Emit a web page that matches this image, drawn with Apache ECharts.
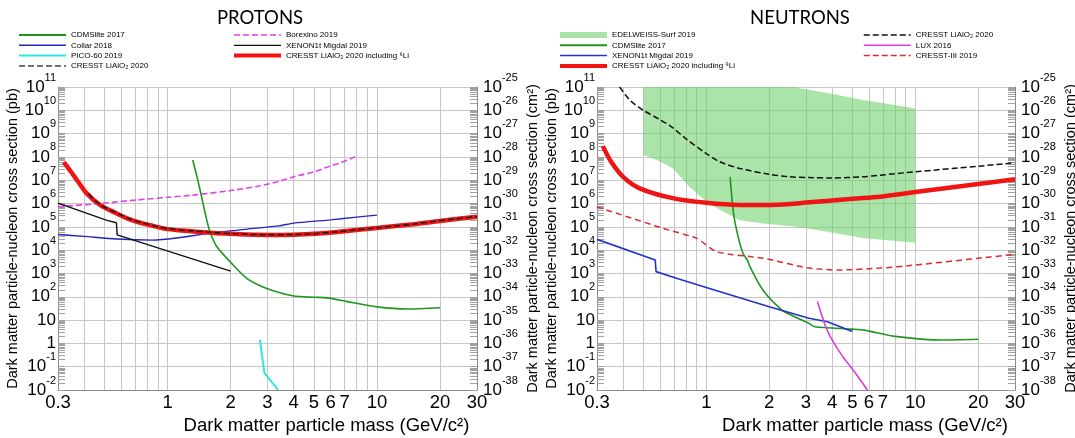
<!DOCTYPE html>
<html>
<head>
<meta charset="utf-8">
<title>Dark matter limits</title>
<script src="https://cdn.jsdelivr.net/npm/echarts@6/dist/echarts.min.js"></script>
<style>
  html, body { margin: 0; padding: 0; background: #fff; }
  #main { width: 1075px; height: 438px; }
</style>
</head>
<body>
<div id="main"></div>
<script>
// axis ticks
const massLabels = [0.3, 1, 2, 3, 4, 5, 6, 7, 10, 20, 30];
const massGrid = [0.3, 0.4, 0.5, 0.6, 0.7, 0.8, 0.9, 1, 2, 3, 4, 5, 6, 7, 8, 9, 10, 20, 30];
const pbTicks = [1e-2, 1e-1, 1, 1e1, 1e2, 1e3, 1e4, 1e5, 1e6, 1e7, 1e8, 1e9, 1e10, 1e11];
// 1 pb = 1e-36 cm2, right hand labels run from 10^-38 to 10^-25
const pbToCmExponent = -36;

// protons  [mass GeV/c2, cross section pb]
const pCdmslite = [[1.32, 7.4e7], [1.38, 1.5e7], [1.43, 3.8e6], [1.54, 1.9e5], [1.6, 5.6e4], [1.72, 1.4e4], [2.1, 1.9e3], [2.4, 6e2], [2.8, 2.8e2], [3.2, 1.8e2], [4, 1.07e2], [5, 95], [5.8, 90], [7.2, 62], [10, 37], [14, 30], [20, 34]];
const pCollar = [[0.3, 4.7e4], [0.4, 3.9e4], [0.57, 3e4], [0.85, 2.7e4], [1.1, 3.3e4], [1.6, 5.4e4], [2.4, 8e4], [3.4, 1.1e5], [4, 1.45e5], [6, 2e5], [8, 2.6e5], [10, 3.2e5]];
const pPico = [[2.76, 1.4], [2.9, 0.054], [3.37, 0.01]];
const pCresst = [[0.42, 2.6e6], [0.476, 9e5], [0.57, 4e5], [0.68, 2e5], [0.85, 1.15e5], [1, 8.5e4], [1.3, 6.8e4], [1.6, 5.8e4], [2.1, 5e4], [3, 4.6e4], [4, 4.7e4], [5, 5.1e4], [7, 6.6e4], [10, 9.2e4], [15, 1.33e5], [20, 1.85e5], [30, 2.8e5]];
const pBorexino = [[0.3, 7.2e5], [0.5, 1.05e6], [0.7, 1.4e6], [1, 1.85e6], [1.32, 2.3e6], [2, 3.6e6], [2.7, 5.5e6], [3.4, 9e6], [4, 1.4e7], [5, 2.3e7], [5.8, 3.7e7], [7, 6.5e7], [8, 1.1e8]];
const pXenon = [[0.3, 1.05e6], [0.514, 1.9e5], [0.57, 1.5e5], [0.575, 4.5e4], [2.0, 1.26e3]];
const pCresstLi = [[0.32, 6e7], [0.35, 2e7], [0.37, 1e7], [0.41, 2.8e6], [0.476, 8.7e5], [0.57, 3.8e5], [0.68, 1.9e5], [0.85, 1.1e5], [1, 8e4], [1.3, 6.5e4], [1.6, 5.6e4], [2.1, 4.9e4], [3, 4.5e4], [4, 4.6e4], [5, 5e4], [7, 6.5e4], [10, 9e4], [15, 1.3e5], [20, 1.8e5], [30, 2.7e5]];

// neutrons
const nBandUpper = [[0.5, 1e11], [2.6, 1e11], [3.8, 5.5e10], [5.6, 2.8e10], [8, 1.7e10], [10, 1.2e10]];
const nBandLower = [[0.5, 1.2e8], [0.58, 7.4e7], [0.69, 3.3e7], [0.83, 5.2e6], [1, 1.2e6], [1.2, 4.5e5], [1.45, 1.9e5], [1.87, 1.4e5], [2.7, 1e5], [3.8, 6.2e4], [5.6, 3.3e4], [10, 2.1e4]];
const nCdmslite = [[1.3, 1.4e7], [1.35, 3.8e5], [1.42, 3.8e4], [1.5, 7.2e3], [1.57, 3.8e3], [1.62, 1.9e3], [1.87, 1.9e2], [2.3, 27], [2.65, 14], [3.1, 7.2], [3.3, 5.2], [5, 4.1], [5.7, 3.7], [8, 2.0], [13.4, 1.4], [20, 1.5]];
const nXenon = [[0.3, 2.9e4], [0.57, 3.8e3], [0.575, 1.2e3], [0.72, 6.2e2], [1, 2.5e2], [2, 37], [3.1, 12], [3.8, 8.5], [5, 3.2]];
const nCresstLi = [[0.32, 2.9e8], [0.35, 6.3e7], [0.4, 1.4e7], [0.48, 4.5e6], [0.69, 1.7e6], [1, 1.07e6], [1.45, 8.7e5], [2, 8.7e5], [2.5, 9.5e5], [3, 1.1e6], [5, 1.6e6], [6.8, 1.95e6], [10, 3.1e6], [20, 6.9e6], [30, 1.1e7]];
const nCresst = [[0.385, 1e11], [0.43, 2.8e10], [0.5, 1e10], [0.6, 4e9], [0.69, 1.8e9], [0.8, 6e8], [1, 1.4e8], [1.16, 6.2e7], [1.45, 3.2e7], [2, 1.8e7], [2.5, 1.4e7], [3.1, 1.3e7], [4, 1.25e7], [5.6, 1.4e7], [6.8, 1.65e7], [10, 2.3e7], [20, 4e7], [30, 5.6e7]];
const nLux = [[3.4, 62], [3.7, 6.2], [4.0, 1.4], [4.5, 0.27], [5.2, 0.05], [5.9, 0.01]];
const nCresst3 = [[0.3, 7.2e5], [0.62, 8.7e4], [0.9, 3.2e4], [1.12, 8.5e3], [1.87, 4.5e3], [3.1, 1.7e3], [4.3, 1.4e3], [6.8, 1.7e3], [10, 2.3e3], [20, 4.5e3], [30, 6.6e3]];

const font = 'Liberation Sans, Arial, sans-serif';
const bandColor = 'rgba(110, 208, 105, 0.58)';

// 1..9 x each decade, for the little tick ladder along the y axes
function minorValues(ticks) {
  const out = [];
  for (let i = 0; i < ticks.length - 1; i++) {
    for (let m = 1; m < 10; m++) out.push(m * ticks[i]);
  }
  out.push(ticks[ticks.length - 1]);
  return out;
}

function expo(v) {
  return Math.round(Math.log10(v));
}
function pbLabel(v) {
  const e = expo(v);
  if (e === 0) return '{b|1}';
  if (e === 1) return '{b|10}';
  return '{b|10}{sup|' + e + '}';
}
function cmLabel(v) {
  return '{b|10}{sup|' + (expo(v) + pbToCmExponent) + '}';
}
const labelRich = {
  b: { fontSize: 17, lineHeight: 30, fontFamily: font, color: '#000' },
  sup: { fontSize: 11, lineHeight: 11, verticalAlign: 'top', fontFamily: font, color: '#000' }
};

function xAxis(grid) {
  return {
    type: 'log', gridIndex: grid, min: 0.3, max: 30,
    name: 'Dark matter particle mass (GeV/c²)',
    nameLocation: 'middle', nameGap: 20,
    nameTextStyle: { fontSize: 18.5, color: '#000', fontFamily: font, padding: [0, 0, 0, 118] },
    axisLine: { lineStyle: { color: '#8a8a8a' } },
    axisTick: { show: false, customValues: massGrid },
    axisLabel: { customValues: massLabels, margin: 3, fontSize: 18.5, color: '#000', fontFamily: font },
    splitLine: { show: true, lineStyle: { color: '#c6c6c6', width: 1 } }
  };
}

function yAxis(grid, side) {
  const left = side === 'left';
  return {
    type: 'log', gridIndex: grid, position: side,
    min: pbTicks[0], max: pbTicks[pbTicks.length - 1],
    name: 'Dark matter particle-nucleon cross section (' + (left ? 'pb' : 'cm²') + ')',
    nameLocation: 'middle', nameRotate: 90,
    nameGap: left ? 35 : 48,
    nameTextStyle: { fontSize: 14.5, color: '#000', fontFamily: font },
    axisLine: { show: true, lineStyle: { color: '#8a8a8a' } },
    axisTick: { show: false, customValues: pbTicks },
    axisLabel: { customValues: pbTicks, formatter: left ? pbLabel : cmLabel, margin: left ? 2 : 6, rich: labelRich },
    splitLine: { show: left, lineStyle: { color: '#c6c6c6', width: 1 } }
  };
}

// tick-only axis; labels kept "on" but empty, otherwise the ticks are not drawn
function yMinor(grid, side) {
  return {
    type: 'log', gridIndex: grid, position: side,
    min: pbTicks[0], max: pbTicks[pbTicks.length - 1],
    axisLine: { show: true, lineStyle: { color: 'rgba(0,0,0,0)' } },
    axisLabel: { show: true, customValues: pbTicks, formatter: function () { return ''; } },
    splitLine: { show: false },
    axisTick: { show: true, inside: true, length: 7, customValues: minorValues(pbTicks), lineStyle: { color: '#a2a2a2', width: 1 } }
  };
}

function line(name, data, grid, color, width, type, smooth) {
  return {
    name: name, type: 'line', xAxisIndex: grid, yAxisIndex: grid * 4,
    data: data, symbol: 'none', smooth: smooth || false,
    lineStyle: { color: color, width: width, type: type || 'solid' },
    itemStyle: { color: color },
    emphasis: { disabled: true }
  };
}

const series = [
  line('p:CDMSlite 2017', pCdmslite, 0, '#1f961f', 1.6, 'solid', 0.25),
  line('p:Collar 2018', pCollar, 0, '#2424bf', 1.4, 'solid', 0.2),
  line('p:PICO-60 2019', pPico, 0, '#2fe6e6', 2),
  line('p:Borexino 2019', pBorexino, 0, '#e042e6', 1.6, [6, 3], 0.25),
  line('p:XENON1t Migdal 2019', pXenon, 0, '#111111', 1.4),
  line('p:CRESST LiAlO₂ 2020 including ⁶Li', pCresstLi, 0, '#f01414', 4.5, 'solid', 0.3),
  line('p:CRESST LiAlO₂ 2020', pCresst, 0, '#1a1a1a', 1.5, [6, 3], 0.3),
  {
    name: 'n:EDELWEISS-Surf 2019', type: 'custom', xAxisIndex: 1, yAxisIndex: 4,
    data: [[1, 1e5]], z: 1, silent: true,
    itemStyle: { color: bandColor },
    renderItem: function (params, api) {
      const pts = nBandUpper.concat(nBandLower.slice().reverse()).map(function (p) { return api.coord(p); });
      return { type: 'polygon', shape: { points: pts }, style: { fill: bandColor } };
    }
  },
  line('n:CDMSlite 2017', nCdmslite, 1, '#1f961f', 1.6, 'solid', 0.25),
  line('n:XENON1t Migdal 2019', nXenon, 1, '#2233cc', 1.6),
  line('n:CRESST-III 2019', nCresst3, 1, '#e02a2a', 1.5, [6, 4], 0.2),
  line('n:LUX 2016', nLux, 1, '#d93ed9', 1.6, 'solid', 0.2),
  line('n:CRESST LiAlO₂ 2020', nCresst, 1, '#111111', 1.5, [6, 3], 0.3),
  line('n:CRESST LiAlO₂ 2020 including ⁶Li', nCresstLi, 1, '#f01414', 4.5, 'solid', 0.3)
];

function item(name, color, width, type) {
  return { name: name, lineStyle: { color: color, width: width, type: type || 'solid' } };
}
function legendBox(left, data) {
  return {
    left: left, top: 30.5, orient: 'vertical', padding: 0,
    itemGap: 1.3, itemWidth: 47, itemHeight: 6, selectedMode: false,
    itemStyle: { opacity: 0 },
    textStyle: { fontSize: 8, lineHeight: 9, color: '#000', fontFamily: font },
    formatter: function (n) { return n.slice(2); },
    data: data
  };
}

const option = {
  animation: false,
  backgroundColor: '#fff',
  grid: [
    { left: 58, right: 598, top: 87, bottom: 48, outerBoundsMode: 'none' },
    { left: 597, right: 60, top: 87, bottom: 48, outerBoundsMode: 'none' }
  ],
  graphic: [
    { type: 'text', x: 260, y: 18, style: { text: 'PROTONS', align: 'center', verticalAlign: 'middle', font: '18.5px Lato, "Open Sans", sans-serif', fill: '#000' } },
    { type: 'text', x: 800, y: 18, style: { text: 'NEUTRONS', align: 'center', verticalAlign: 'middle', font: '18.5px Lato, "Open Sans", sans-serif', fill: '#000' } }
  ],
  legend: [
    legendBox(18, [
      item('p:CDMSlite 2017', '#1f961f', 2),
      item('p:Collar 2018', '#2424bf', 1.5),
      item('p:PICO-60 2019', '#2fe6e6', 2),
      item('p:CRESST LiAlO₂ 2020', '#444444', 1.5, [6, 3])
    ]),
    legendBox(232, [
      item('p:Borexino 2019', '#e042e6', 1.5, [6, 3]),
      item('p:XENON1t Migdal 2019', '#111111', 1.2),
      item('p:CRESST LiAlO₂ 2020 including ⁶Li', '#f01414', 4)
    ]),
    legendBox(558, [
      { name: 'n:EDELWEISS-Surf 2019', icon: 'rect', itemStyle: { color: bandColor, opacity: 1 } },
      item('n:CDMSlite 2017', '#1f961f', 2),
      item('n:XENON1t Migdal 2019', '#2233cc', 1.5),
      item('n:CRESST LiAlO₂ 2020 including ⁶Li', '#f01414', 4)
    ]),
    legendBox(863, [
      item('n:CRESST LiAlO₂ 2020', '#111111', 1.5, [6, 3]),
      item('n:LUX 2016', '#d93ed9', 1.5),
      item('n:CRESST-III 2019', '#e02a2a', 1.5, [6, 3])
    ])
  ],
  xAxis: [xAxis(0), xAxis(1)],
  yAxis: [
    yAxis(0, 'left'), yAxis(0, 'right'), yMinor(0, 'left'), yMinor(0, 'right'),
    yAxis(1, 'left'), yAxis(1, 'right'), yMinor(1, 'left'), yMinor(1, 'right')
  ],
  series: series
};

const chart = echarts.init(document.getElementById('main'));
chart.setOption(option);
</script>
</body>
</html>
